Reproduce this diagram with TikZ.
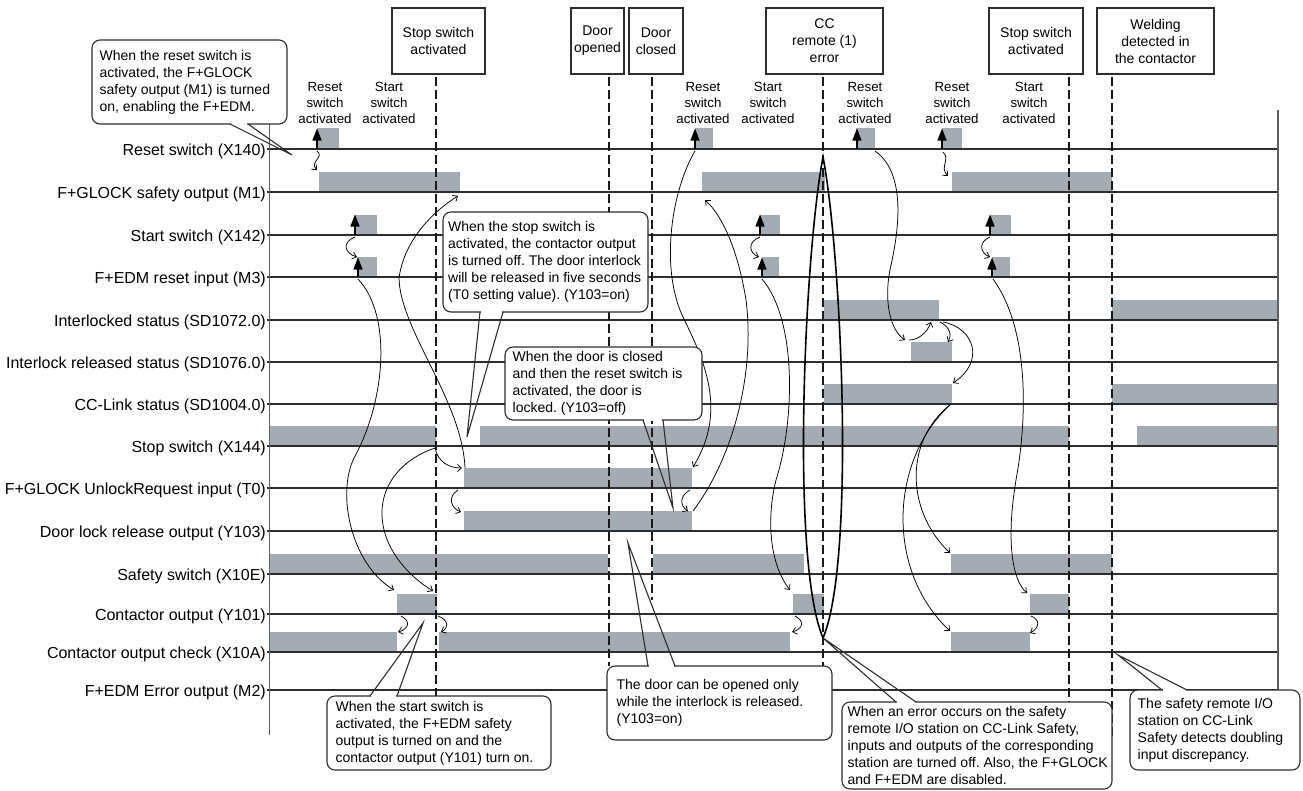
\documentclass[tikz,border=0pt]{standalone}
\usepackage{fontspec}
\setmainfont{Liberation Sans}
\usetikzlibrary{arrows.meta}
\definecolor{barc}{RGB}{165,171,179}
\definecolor{linec}{RGB}{45,45,45}
\definecolor{axisc}{RGB}{95,95,95}
\newcommand\sbar[3]{\fill[barc] (#1,{#3-20.5}) rectangle (#2,#3);}
\newcommand\cptr[6]{%
  \fill[white] ({#1+0.9},{#3-0.6*#6}) rectangle ({#2-0.9},{#3+#6});
  \draw[ptr] (#1,#3) -- (#4,#5) -- (#2,#3);}
\begin{document}
\frenchspacing
\begin{tikzpicture}[x=1pt,y=-1pt,
  sig/.style={draw=linec, line width=1.1pt},
  axis/.style={draw=axisc, line width=1.6pt},
  lab/.style={anchor=base east, font=\fontsize{16}{19}\selectfont, inner sep=0pt},
  ev/.style={align=center, font=\fontsize{13.3}{15.6}\selectfont, inner sep=0pt},
  tbox/.style={draw=linec, line width=1.2pt, align=center, font=\fontsize{14}{17}\selectfont, inner sep=0pt},
  vd/.style={line width=2pt, dash pattern=on 9pt off 4pt, draw=black!90},
  conn/.style={line width=0.75pt, -{Straight Barb[length=4pt,width=7pt]}},
  upar/.style={line width=1.5pt, -{Triangle[length=12pt,width=9pt]}},
  cbox/.style={draw=linec, line width=1.1pt, fill=white, rounded corners=8pt, inner sep=0pt},
  ctext/.style={anchor=west, align=left, font=\fontsize{14}{17}\selectfont, inner sep=0pt},
  ptr/.style={draw=linec, line width=1.1pt, line join=miter},
  ell/.style={draw=black, line width=1.6pt}]
\useasboundingbox (0,0) rectangle (1303,790);

% ---------------- bars ----------------
\fill[barc] (317,128) rectangle (339,149);
\fill[barc] (695,128) rectangle (713,149);
\fill[barc] (856,128) rectangle (875,149);
\fill[barc] (942,128) rectangle (962,149);
\sbar{319}{460}{192} \sbar{702}{825}{192} \sbar{952}{1112}{192}
\sbar{355}{377}{235} \sbar{760}{780}{235} \sbar{990}{1011}{235}
\sbar{357}{377}{277} \sbar{762}{779}{277} \sbar{992}{1010}{277}
\sbar{824}{939}{320} \sbar{1112}{1278}{320}
\sbar{911}{952}{362}
\sbar{824}{952}{404} \sbar{1112}{1278}{404}
\sbar{270}{436}{446} \sbar{480}{1069}{446} \sbar{1137}{1278}{446}
\sbar{464}{692}{488}
\sbar{464}{692}{531}
\sbar{270}{608}{574} \sbar{653}{804}{574} \sbar{951}{1112}{574}
\sbar{397}{437}{614} \sbar{793}{824}{614} \sbar{1030}{1069}{614}
\sbar{270}{397}{652} \sbar{439}{790}{652} \sbar{951}{1030}{652}

% ---------------- signal lines ----------------
\foreach \yy in {149,192,235,277,320,362,404,446,488,531,574,614,652,690}
  {\draw[sig] (267,\yy) -- (1278,\yy);}
\draw[axis] (269.5,124) -- (269.5,735);
\draw[axis] (1278,110) -- (1278,690);

% ---------------- signal labels ----------------
\node[lab] (lA) at (266,155) {Reset switch (X140)};
\node[lab] (lB) at (266,198) {F+GLOCK safety output (M1)};
\node[lab] (lC) at (266,241) {Start switch (X142)};
\node[lab] (lD) at (266,283) {F+EDM reset input (M3)};
\node[lab] (lE) at (266,326) {Interlocked status (SD1072.0)};
\node[lab] (lF) at (266,368) {Interlock released status (SD1076.0)};
\node[lab] (lG) at (266,410) {CC-Link status (SD1004.0)};
\node[lab] (lH) at (266,452) {Stop switch (X144)};
\node[lab] (lI) at (266,494) {F+GLOCK UnlockRequest input (T0)};
\node[lab] (lJ) at (266,537) {Door lock release output (Y103)};
\node[lab] (lK) at (266,580) {Safety switch (X10E)};
\node[lab] (lL) at (266,620) {Contactor output (Y101)};
\node[lab] (lM) at (266,658) {Contactor output check (X10A)};
\node[lab] (lN) at (266,696) {F+EDM Error output (M2)};

% ---------------- event labels ----------------
\node[ev] (e1) at (325,103) {Reset\\switch\\activated};
\node[ev] (e2) at (389,103) {Start\\switch\\activated};
\node[ev] (e3) at (703,103) {Reset\\switch\\activated};
\node[ev] (e4) at (768,103) {Start\\switch\\activated};
\node[ev] (e5) at (865,103) {Reset\\switch\\activated};
\node[ev] (e6) at (952,103) {Reset\\switch\\activated};
\node[ev] (e7) at (1029,103) {Start\\switch\\activated};

% ---------------- top boxes ----------------
\node[tbox, minimum width=93pt, minimum height=66pt] (tStopA) at (438.5,41) {Stop switch\\activated};
\node[tbox, minimum width=53pt, minimum height=66pt] (tDoorO) at (597.5,41) {Door\\opened};
\node[tbox, minimum width=54pt, minimum height=66pt] (tDoorC) at (656,41) {Door\\closed};
\node[tbox, minimum width=117pt, minimum height=66pt] (tCC) at (824.5,41) {CC\\remote (1)\\error};
\node[tbox, minimum width=94pt, minimum height=66pt] (tStopB) at (1036,41) {Stop switch\\activated};
\node[tbox, minimum width=117pt, minimum height=66pt] (tWeld) at (1155.5,41) {Welding\\detected in\\the contactor};

% ---------------- dashed event lines ----------------
\draw[vd] (436,77) -- (436,696);
\draw[vd] (609,77) -- (609,666);
\draw[vd] (652,77) -- (652,600);
\draw[vd] (823,77) -- (823,666);
\draw[vd] (1069,77) -- (1069,702);
\draw[vd] (1112,77) -- (1112,737);

% ---------------- filled up-arrows ----------------
\foreach \xx/\yy/\tt in {317/149/128, 695/149/128, 857/149/128, 942/149/128,
  355/235/214, 760/235/214, 990/235/214, 358/277/257, 762/277/257, 992/277/257}
  {\draw[upar] (\xx,\yy) -- (\xx,{\tt+0.5});}

% ---------------- connectors ----------------
\coordinate (r1) at (317,151); \coordinate (m1a) at (317,170);
\draw[conn] (r1) .. controls (325,157) and (309,162) .. (m1a);
\coordinate (s1) at (355,237); \coordinate (m31) at (357,257);
\draw[conn] (s1) .. controls (342,242) and (344,253) .. (m31);
\coordinate (s2) at (760,237); \coordinate (m32) at (759,257);
\draw[conn] (s2) .. controls (747,242) and (749,253) .. (m32);
\coordinate (s3) at (990,237); \coordinate (m33) at (990,257);
\draw[conn] (s3) .. controls (978,242) and (980,253) .. (m33);
\coordinate (r4) at (943,152); \coordinate (m1d) at (948,176);
\draw[conn] (r4) .. controls (951,159) and (939,167) .. (m1d);

\coordinate (m3b1) at (358,279); \coordinate (y101a) at (394,590);
\draw[conn] (m3b1) .. controls (392,315) and (386,400) .. (354,458) .. controls (336,495) and (352,565) .. (y101a);
\coordinate (st1) at (435,448); \coordinate (y101b) at (433,591);
\draw[conn] (st1) .. controls (405,458) and (381,482) .. (382,515) .. controls (383,550) and (410,577) .. (y101b);
\coordinate (t0a) at (462,468);
\draw[conn] (st1) .. controls (438,462) and (449,468) .. (t0a);
\coordinate (t0s) at (465,468); \coordinate (m1b) at (458,196);
\draw[conn] (t0s) .. controls (462,400) and (400,330) .. (399,278) .. controls (405,235) and (440,207) .. (m1b);
\coordinate (t0b) at (458,490); \coordinate (y103a) at (461,512);
\draw[conn] (t0b) .. controls (447,497) and (451,508) .. (y103a);
\coordinate (y101c) at (401,616); \coordinate (x10aa) at (398,632);
\draw[conn] (y101c) .. controls (411,621) and (409,629) .. (x10aa);
\coordinate (y101d) at (438,616); \coordinate (x10ab) at (441,632);
\draw[conn] (y101d) .. controls (449,620) and (449,628) .. (x10ab);

\coordinate (r2) at (695,151); \coordinate (t0c) at (693,467);
\draw[conn] (r2) .. controls (672,190) and (660,265) .. (682,315) .. controls (704,360) and (728,410) .. (t0c);
\coordinate (t0d) at (690,490); \coordinate (y103b) at (688,511);
\draw[conn] (t0d) .. controls (679,496) and (680,506) .. (y103b);
\coordinate (y103c) at (693,511); \coordinate (m1c) at (705,200);
\draw[conn] (y103c) .. controls (735,455) and (755,370) .. (746,300) .. controls (738,250) and (722,215) .. (m1c);
\coordinate (m3b2) at (762,279); \coordinate (y101e) at (790,590);
\draw[conn] (m3b2) .. controls (797,320) and (795,420) .. (776,480) .. controls (766,520) and (770,565) .. (y101e);
\coordinate (y101f) at (795,616); \coordinate (x10ac) at (792,632);
\draw[conn] (y101f) .. controls (805,621) and (803,629) .. (x10ac);

\coordinate (r3) at (875,151); \coordinate (sd76a) at (905,340);
\draw[conn] (r3) .. controls (905,172) and (900,225) .. (891,265) .. controls (883,300) and (890,330) .. (sd76a);
\coordinate (sd76b) at (909,340); \coordinate (sd72a) at (931,322);
\draw[conn] (sd76b) .. controls (918,340) and (927,333) .. (sd72a);
\coordinate (sd72b) at (940,322); \coordinate (sd76c) at (948,342);
\draw[conn] (sd72b) .. controls (950,327) and (952,335) .. (sd76c);
\coordinate (sd72c) at (943,322); \coordinate (sd04a) at (953,383);
\draw[conn] (sd72c) .. controls (975,328) and (985,362) .. (sd04a);
\coordinate (sd04b) at (950,405); \coordinate (x10ea) at (950,553);
\draw[conn] (sd04b) .. controls (905,440) and (905,510) .. (x10ea);
\coordinate (x10ad) at (950,631);
\draw[conn] (sd04b) .. controls (890,460) and (885,570) .. (x10ad);
\coordinate (m3b3) at (993,279); \coordinate (y101g) at (1027,593);
\draw[conn] (m3b3) .. controls (1030,330) and (1027,420) .. (1016,480) .. controls (1006,540) and (1012,580) .. (y101g);
\coordinate (y101h) at (1031,616); \coordinate (x10ae) at (1030,633);
\draw[conn] (y101h) .. controls (1041,620) and (1039,628) .. (x10ae);

% ---------------- CC error loop ----------------
\coordinate (elTop) at (823,157); \coordinate (elBot) at (823,638);
\draw[ell] (elTop) .. controls (805,250) and (790,560) .. (elBot) .. controls (856,560) and (841,250) .. (elTop) -- cycle;

% ---------------- callouts ----------------
\node[cbox, minimum width=195pt, minimum height=84pt] (bReset) at (189.5,82) {};
\node[ctext] (tReset) at ([xshift=8pt]bReset.west) {When the reset switch is\\activated, the F+GLOCK\\safety output (M1) is turned\\on, enabling the F+EDM.};
\cptr{230}{248}{124}{292}{155}{-2}

\node[cbox, minimum width=205pt, minimum height=100pt] (bStop) at (545.5,262) {};
\node[ctext] (tStop) at ([xshift=5.5pt]bStop.west) {When the stop switch is\\activated, the contactor output\\is turned off. The door interlock\\will be released in five seconds\\(T0 setting value). (Y103=on)};
\cptr{480}{503}{312}{467}{437}{-2}

\node[cbox, minimum width=197pt, minimum height=73pt] (bClosed) at (603.5,383.5) {};
\node[ctext] (tClosed) at ([xshift=8pt]bClosed.west) {When the door is closed\\and then the reset switch is\\activated, the door is\\locked. (Y103=off)};
\cptr{643}{663}{420}{673}{508}{-2}

\node[cbox, minimum width=224pt, minimum height=74pt] (bStart) at (439,733) {};
\node[ctext] (tStart) at ([xshift=9pt]bStart.west) {When the start switch is\\activated, the F+EDM safety\\output is turned on and the\\contactor output (Y101) turn on.};
\cptr{370}{397}{696}{423}{623}{2}

\node[cbox, minimum width=225pt, minimum height=74pt] (bDoor) at (719.5,703) {};
\node[ctext] (tDoor) at ([xshift=10pt]bDoor.west) {The door can be opened only\\while the interlock is released.\\(Y103=on)};
\cptr{648}{675}{666}{628}{543}{2}

\node[cbox, minimum width=270pt, minimum height=87pt] (bErr) at (977,745.5) {};
\node[ctext] (tErr) at ([xshift=6pt]bErr.west) {When an error occurs on the safety\\remote I/O station on CC-Link Safety,\\inputs and outputs of the corresponding\\station are turned off. Also, the F+GLOCK\\and F+EDM are disabled.};
\cptr{896}{916}{702}{823}{638}{2}

\node[cbox, minimum width=170pt, minimum height=80pt] (bDbl) at (1215,730) {};
\node[ctext] (tDbl) at ([xshift=8pt]bDbl.west) {The safety remote I/O\\station on CC-Link\\Safety detects doubling\\input discrepancy.};
\cptr{1162}{1187}{690}{1118}{655}{2}

\end{tikzpicture}
\end{document}
